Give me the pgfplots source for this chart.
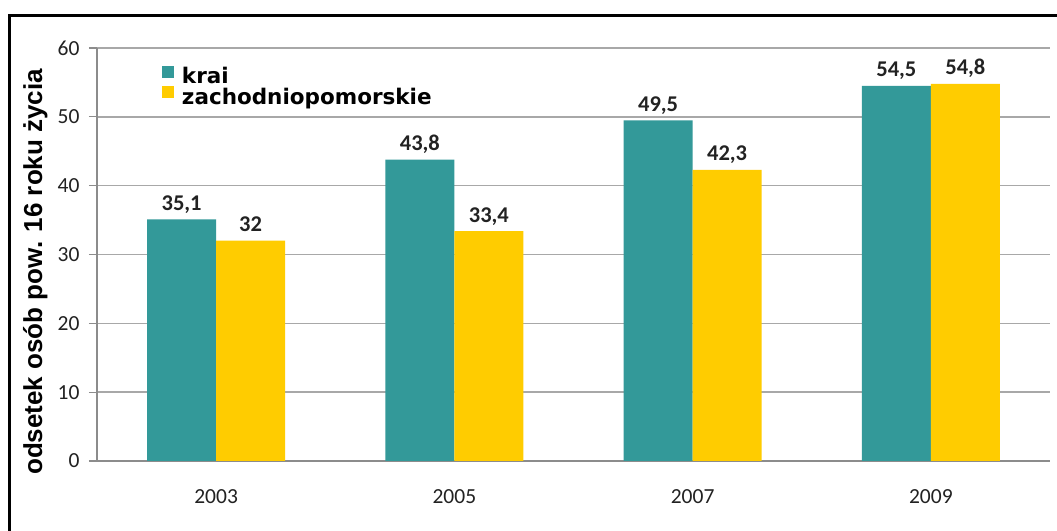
\documentclass[border=0pt]{standalone}
\usepackage{pgfplots}
\pgfplotsset{compat=1.18}
\usepackage{fontspec}
\setmainfont{Carlito}
\newfontfamily\legfont{DejaVu Sans}
\newfontfamily\labfont{Liberation Sans}
\definecolor{teal1}{HTML}{339999}
\definecolor{yel1}{HTML}{FFCC00}
\definecolor{gridc}{HTML}{A8A8A8}
\definecolor{axc}{HTML}{8C8C8C}
\definecolor{txt}{HTML}{222222}
\begin{document}
\begin{tikzpicture}[x=1pt,y=1pt]
\useasboundingbox (0,0) rectangle (1057,530);
\fill[white] (0,0) rectangle (1057,530);
\draw[line width=3pt,line cap=rect] (9,0) -- (9,514.7) -- (1060,514.7);
\begin{axis}[
  at={(97pt,69pt)}, anchor=south west,
  scale only axis, width=953pt, height=413pt,
  xmin=-0.5, xmax=3.5, ymin=0, ymax=60,
  axis lines*=left,
  axis line style={draw=axc, line width=1.2pt},
  ytick={0,10,...,60},
  ymajorgrids, grid style={draw=gridc, line width=1.6pt},
  xtick={0,1,2,3}, xticklabels={2003,2005,2007,2009},
  major x tick style={draw=none},
  extra x ticks={0.5,1.5,2.5,3.5}, extra x tick labels={},
  extra x tick style={major tick length=7pt, tick align=outside, major tick style={draw=axc, line width=1.2pt}, xmajorgrids=false},
  tick align=outside, major tick length=8pt,
  major y tick style={draw=axc, line width=1.2pt},
  /pgf/number format/assume math mode=true,
  tick label style={font=\fontsize{21.5}{24}\selectfont, text=txt},
  yticklabel style={xshift=-6pt},
  xticklabel style={anchor=base, yshift=-34pt},
  ybar=0pt, bar width=69pt,
  ylabel={\labfont\bfseries odsetek osób pow. 16 roku życia},
  ylabel style={at={(axis description cs:-0.0575,0.458)}, anchor=base, font=\fontsize{26}{30}\selectfont, rotate=0},
  legend style={draw=none, fill=none, at={(axis description cs:0.068,0.958)}, anchor=north west,
    font=\legfont\bfseries\fontsize{21.5}{24}\selectfont, inner sep=0pt, row sep=-1pt,
    nodes={inner sep=2pt}},
  legend image code/.code={\fill[#1] (0pt,-1pt) rectangle (12pt,11pt);},
  legend cell align=left,
  nodes near coords,
  point meta=explicit symbolic,
  every node near coord/.append style={font=\bfseries\fontsize{22.5}{25}\selectfont, text=txt, anchor=base, yshift=9pt, inner sep=0pt},
  clip=false,
]
\addplot[fill=teal1, draw=none, bar shift=-34.5pt] coordinates {(0,35.1)[35,1] (1,43.8)[43,8] (2,49.5)[49,5] (3,54.5)[54,5]};
\addlegendentry{\hspace{6pt}krai}
\addplot[fill=yel1, draw=none, bar shift=34.5pt] coordinates {(0,32)[32] (1,33.4)[33,4] (2,42.3)[42,3] (3,54.8)[54,8]};
\addlegendentry{\hspace{6pt}zachodniopomorskie}
\end{axis}
\end{tikzpicture}
\end{document}
